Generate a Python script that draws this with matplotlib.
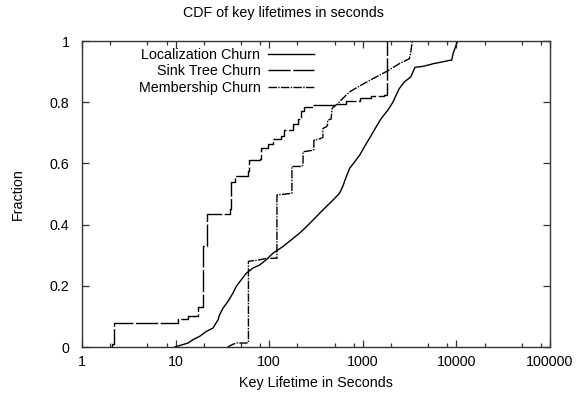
import numpy as np
import matplotlib
matplotlib.use('Agg')
import matplotlib.pyplot as plt
from matplotlib.ticker import FixedLocator, NullFormatter

plt.rcParams['font.family'] = ['Liberation Sans', 'DejaVu Sans']

# Localization Churn (solid, smooth)
loc_x = [9.8, 13.6, 15.3, 18.1, 21.3, 25.1, 28.4, 29.5, 32.1, 36.3, 41, 44.5, 50.4, 56.9,
         67.1, 79, 93, 110, 140, 180, 211, 250, 294, 375, 480, 563, 610, 667, 724, 818,
         925, 1090, 1233, 1393, 1575, 1853, 2096, 2269, 2460, 2780, 3257, 3614, 4376,
         5690, 7176, 8525, 8900, 9236, 9660, 10000, 10400]
loc_y = [0.0, 0.013, 0.024, 0.035, 0.051, 0.062, 0.089, 0.105, 0.127, 0.149, 0.176, 0.198,
         0.22, 0.241, 0.258, 0.268, 0.285, 0.307, 0.328, 0.355, 0.372, 0.393, 0.415, 0.448,
         0.48, 0.502, 0.524, 0.557, 0.584, 0.605, 0.627, 0.665, 0.692, 0.72, 0.747, 0.774,
         0.80, 0.823, 0.845, 0.866, 0.883, 0.914, 0.917, 0.926, 0.932, 0.937, 0.937, 0.96,
         0.976, 0.99, 1.0]

# Sink Tree Churn (dashed, steps)
sink_x = [2.0, 2.07, 2.2, 10.6, 13.6, 17.4, 19.6, 21.8, 37.8, 39.5, 42.8, 59.3, 61, 79, 82,
          97, 109, 135, 145, 180, 203, 220, 238, 294, 521, 667, 925, 1233, 1700, 1830]
sink_y = [0.0, 0.01, 0.08, 0.09, 0.10, 0.13, 0.33, 0.435, 0.45, 0.54, 0.56, 0.575, 0.61,
          0.615, 0.65, 0.665, 0.68, 0.69, 0.71, 0.73, 0.745, 0.77, 0.785, 0.79, 0.795,
          0.805, 0.815, 0.82, 0.825, 1.0]

# Membership Churn (dotted)
mem_x = [36, 41, 45, 57, 60, 60, 79, 95, 119, 121, 121, 172, 175, 175, 222, 230, 230, 294,
         300, 300, 346, 375, 375, 409, 420, 420, 459, 470, 544, 610, 724, 890, 1194, 1783,
         2460, 3137, 3257, 3385]
mem_y = [0.0, 0.009, 0.013, 0.013, 0.015, 0.28, 0.285, 0.29, 0.29, 0.29, 0.497, 0.502,
         0.502, 0.59, 0.59, 0.595, 0.638, 0.643, 0.645, 0.676, 0.68, 0.685, 0.714, 0.72,
         0.725, 0.741, 0.745, 0.78, 0.796, 0.812, 0.834, 0.85, 0.872, 0.9, 0.926, 0.942,
         0.964, 1.0]

x_ticks = [1, 10, 100, 1000, 10000, 100000]
x_labels = ['1', '10', '100', '1000', '10000', '100000']
y_ticks = [0, 0.2, 0.4, 0.6, 0.8, 1]
y_labels = ['0', '0.2', '0.4', '0.6', '0.8', '1']

fs = 10.3
fig = plt.figure(figsize=(5.79, 3.95), dpi=100)
ax = fig.add_axes([0.1416, 0.1215, 0.8083, 0.7747])

ax.plot(loc_x, loc_y, color='black', lw=1.0, label='Localization Churn')
ax.step(sink_x, sink_y, where='post', color='black', lw=1.0, dashes=(16, 1.8),
        label='Sink Tree Churn')
ax.plot(mem_x, mem_y, color='black', lw=1.0, dashes=(6, 1, 1, 1),
        label='Membership Churn')

ax.set_xscale('log')
ax.set_xlim(1, 100000)
ax.set_ylim(0, 1)
ax.xaxis.set_major_locator(FixedLocator(x_ticks))
ax.set_xticklabels(x_labels)
minors = [m * d for d in [1, 10, 100, 1000, 10000] for m in (2, 5, 8)]
ax.xaxis.set_minor_locator(FixedLocator(minors))
ax.xaxis.set_minor_formatter(NullFormatter())
ax.set_yticks(y_ticks)
ax.set_yticklabels(y_labels)

ax.tick_params(which='both', direction='in', top=True, right=True, labelsize=fs,
               color='#333333', width=0.9)
ax.tick_params(which='major', length=5)
ax.tick_params(which='minor', length=3)
ax.tick_params(axis='x', pad=6)
ax.tick_params(axis='y', pad=9)
for s in ax.spines.values():
    s.set_linewidth(1.0)
    s.set_color('#333333')

leg = ax.legend(loc='upper right', bbox_to_anchor=(0.505, 0.99), frameon=False,
                markerfirst=False, fontsize=fs, handlelength=3.2, handletextpad=0.55,
                labelspacing=0.15, borderaxespad=0.2, borderpad=0.1)

fig.text(0.49, 0.967, 'CDF of key lifetimes in seconds', ha='center', va='center', fontsize=fs)
fig.text(0.546, 0.03, 'Key Lifetime in Seconds', ha='center', va='center', fontsize=fs)
fig.text(0.031, 0.508, 'Fraction', ha='center', va='center', rotation=90, fontsize=fs)

fig.savefig('out.png', dpi=100)
